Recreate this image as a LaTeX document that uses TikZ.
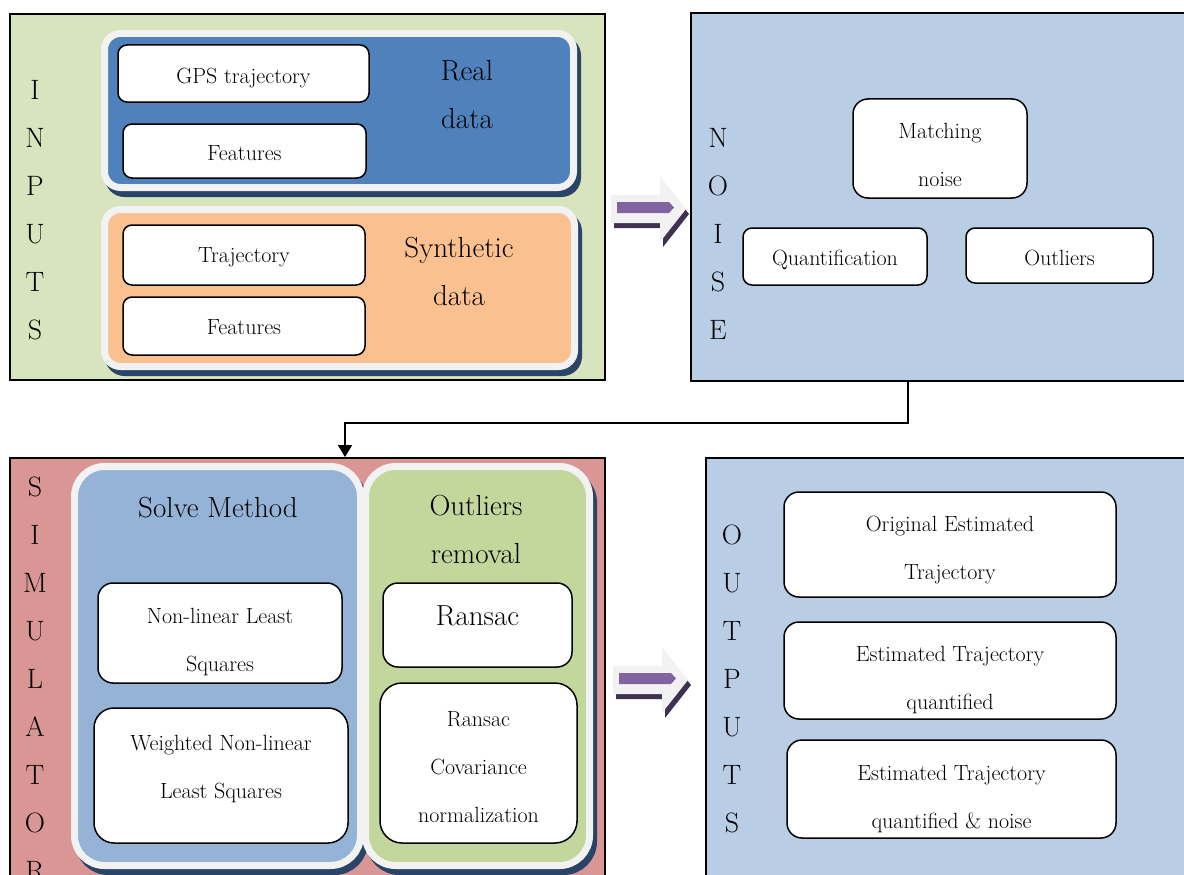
\documentclass[tikz,border=0pt]{standalone}
\usepackage{fontspec}
\usetikzlibrary{arrows.meta,shadows}

\definecolor{inpgreen}{HTML}{D7E4BD}
\definecolor{noiseblue}{HTML}{B9CDE5}
\definecolor{simred}{HTML}{D99694}
\definecolor{realblue}{HTML}{4F81BD}
\definecolor{synorange}{HTML}{FAC090}
\definecolor{solveblue}{HTML}{95B3D7}
\definecolor{outgreen}{HTML}{C3D69B}
\definecolor{framegrey}{HTML}{F2F2F2}
\definecolor{shadownavy}{HTML}{2A4468}
\definecolor{arrowpurple}{HTML}{8064A2}
\definecolor{arrowdark}{HTML}{3F3151}

\newcommand{\smallfont}{\fontsize{22}{48}\selectfont}
\newcommand{\bigfont}{\fontsize{29}{48}\selectfont}
% struts that move the text of a box down (\dn) or up (\upr)
\newcommand{\dn}[1]{\rule{0pt}{#1pt}}
\newcommand{\upr}[1]{\rule[-#1pt]{0pt}{#1pt}}

\tikzset{
  panel/.style={draw=black, line width=1.8pt, inner sep=0pt},
  grp/.style={rounded corners=16pt, draw=framegrey, line width=7pt, inner sep=0pt,
    drop shadow={shadow xshift=4pt, shadow yshift=-6pt, fill=shadownavy,
      draw=shadownavy, line width=7pt, opacity=1}},
  inbox/.style={draw=black, fill=white, line width=1.5pt, rounded corners=9pt,
    inner sep=0pt, align=center, font=\smallfont},
  bigtxt/.style={align=center, font=\bigfont},
  letters/.style={align=center, font=\fontsize{28}{48}\selectfont},
  flow/.style={draw=black, line width=1.5pt, -{Triangle[width=14pt,length=12pt]}},
  fatarrow/.pic={
    \fill[arrowdark, shift={(3,5)}] (-37,-14) -- (12,-14) -- (12,-33) -- (38,0)
      -- (12,33) -- (12,14) -- (-37,14) -- cycle;
    \fill[framegrey] (-37,-14) -- (12,-14) -- (12,-33) -- (38,0)
      -- (12,33) -- (12,14) -- (-37,14) -- cycle;
    \fill[arrowpurple] (-31,-7) -- (21,-7) -- (26,-1.5) -- (21,4) -- (-31,4) -- cycle;
  }
}

\begin{document}
\begin{tikzpicture}[x=1pt,y=-1pt]
\useasboundingbox (0,0) rectangle (1184,875);

% inputs
\node[panel, fill=inpgreen, minimum width=595, minimum height=366] (inputs) at (307.5,197) {};
\node[letters] (inlbl) at (35,210) {I\\N\\P\\U\\T\\S};
\node[grp, fill=realblue, minimum width=469, minimum height=154] (realgrp) at (339,110.5) {};
\node[inbox, minimum width=251, minimum height=57] (gps) at (243.5,73.5) {\dn{25}GPS trajectory};
\node[inbox, minimum width=243, minimum height=54] (feat1) at (244.5,151) {\dn{19}Features};
\node[bigtxt] (realtxt) at (467,95) {Real\\data};
\node[grp, fill=synorange, minimum width=470, minimum height=157] (syngrp) at (339.5,288) {};
\node[inbox, minimum width=242, minimum height=60] (traj) at (244,255) {\dn{19}Trajectory};
\node[inbox, minimum width=242, minimum height=58] (feat2) at (244,326) {\dn{18}Features};
\node[bigtxt] (syntxt) at (459,271) {Synthetic\\data};

% noise
\node[panel, fill=noiseblue, minimum width=504, minimum height=368] (noise) at (943,197) {};
\node[letters] (nzlbl) at (718,234) {N\\O\\I\\S\\E};
\node[inbox, rounded corners=15pt, minimum width=174, minimum height=99] (match) at (940,148.5) {\dn{29}Matching\\noise};
\node[inbox, minimum width=184, minimum height=57] (quant) at (835,256.5) {\dn{23}Quantification};
\node[inbox, minimum width=187, minimum height=55] (outl) at (1059.5,255.5) {\dn{21}Outliers};

% simulator
\node[panel, fill=simred, minimum width=595, minimum height=432] (sim) at (307.5,674) {};
\node[letters] (simlbl) at (35,679) {S\\I\\M\\U\\L\\A\\T\\O\\R};
\node[grp, rounded corners=30pt, fill=solveblue, minimum width=286, minimum height=399] (solvegrp) at (217.5,666) {};
\node[grp, rounded corners=30pt, fill=outgreen, minimum width=224, minimum height=399] (outgrp) at (477.5,666) {};
\node[bigtxt] (solvetxt) at (218,508) {Solve Method};
\node[bigtxt] (outtxt) at (476,529) {Outliers\\removal};
\node[inbox, rounded corners=15pt, minimum width=244, minimum height=100] (nlls) at (220,633) {\dn{33}Non-linear Least\\Squares};
\node[inbox, rounded corners=20pt, minimum width=254, minimum height=135] (wnlls) at (221,775.5) {Weighted Non-linear\\Least Squares\upr{18}};
\node[inbox, rounded corners=15pt, minimum width=189, minimum height=84, font=\bigfont] (ransac) at (477.5,625) {Ransac\upr{18}};
\node[inbox, rounded corners=22pt, minimum width=197, minimum height=160] (rcov) at (478.5,763) {\dn{23}Ransac\\Covariance\\normalization};

% outputs
\node[panel, fill=noiseblue, minimum width=489, minimum height=432] (outputs) at (950.5,674) {};
\node[letters] (outlbl) at (732,679) {O\\U\\T\\P\\U\\T\\S};
\node[inbox, rounded corners=15pt, minimum width=332, minimum height=105] (orig) at (950,544.5) {\dn{27}Original Estimated\\Trajectory};
\node[inbox, rounded corners=15pt, minimum width=332, minimum height=97] (estq) at (950,670.5) {\dn{35}Estimated Trajectory\\quantified};
\node[inbox, rounded corners=15pt, minimum width=329, minimum height=98] (estqn) at (951.5,789) {\dn{35}Estimated Trajectory\\quantified \& noise};

% arrows
\pic at (648,209) {fatarrow};
\pic at (650,680) {fatarrow};
\draw[flow] ([xshift=-35pt]noise.south) -- ++(0,41) -| ([xshift=37.5pt]sim.north);
\end{tikzpicture}
\end{document}
